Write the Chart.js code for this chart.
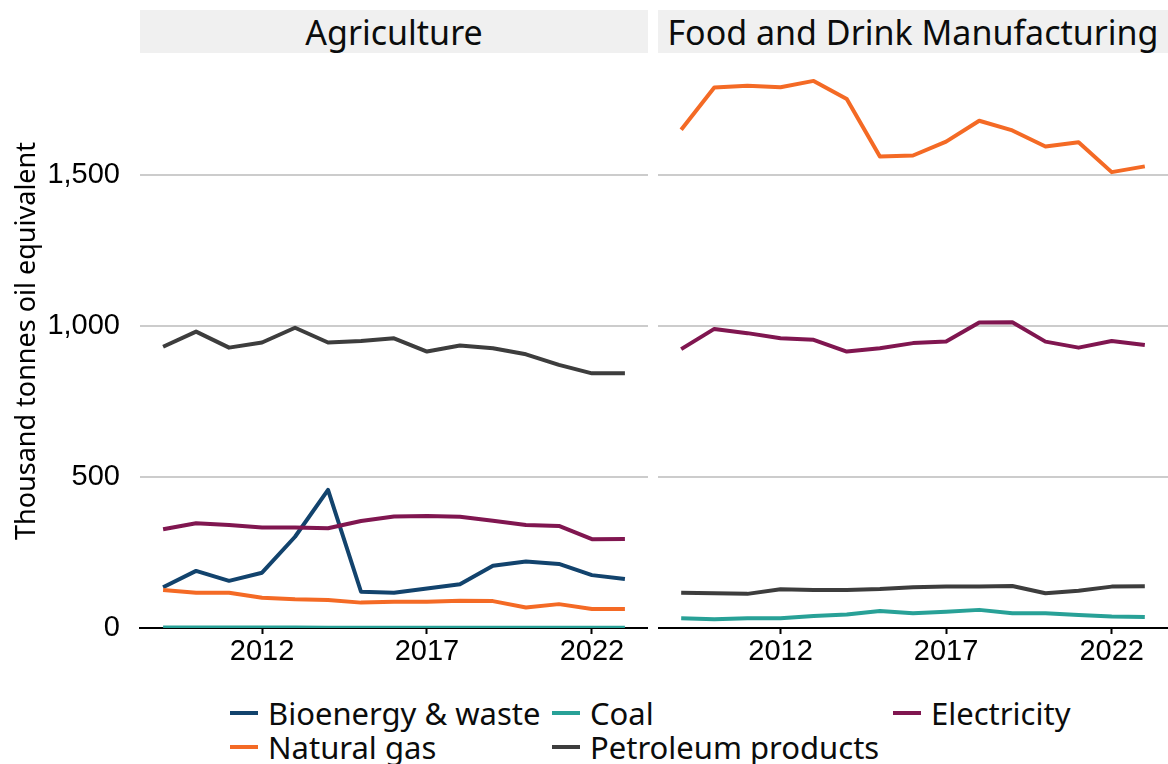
<!DOCTYPE html>
<html><head><meta charset="utf-8">
<script src="https://cdn.jsdelivr.net/npm/chart.js@4/dist/chart.umd.min.js"></script>
<style>
html,body{margin:0;padding:0;background:#fff}
body{width:1168px;height:764px;overflow:hidden;position:relative;font-family:"Noto Sans",sans-serif;color:#0b0c0c}
.strip{position:absolute;top:10px;height:43px;background:#f0f0f0;display:flex;align-items:center;justify-content:center;font-size:34px;white-space:nowrap}
canvas{position:absolute;top:54px}
.leg{position:absolute;display:flex;align-items:center;font-size:31px;white-space:nowrap;height:34px}
.leg i{display:inline-block;width:28px;height:4px;margin-right:10px}
</style>
</head><body>
<div class="strip" style="left:140px;width:508px">Agriculture</div>
<div class="strip" style="left:658px;width:510px">Food and Drink Manufacturing</div>
<canvas id="c1" width="648" height="626" style="left:0"></canvas>
<canvas id="c2" width="510" height="626" style="left:658px"></canvas>
<div id="legend"></div>
<script>
const years = [2009,2010,2011,2012,2013,2014,2015,2016,2017,2018,2019,2020,2021,2022,2023];
const seriesNames = ["Bioenergy & waste","Coal","Electricity","Natural gas","Petroleum products"];
const seriesColors = ["#12436D","#28A197","#801650","#F46A25","#3D3D3D"];
const xTicks = [2012,2017,2022];
const yTicks = [0,500,1000,1500];

// Agriculture
const agriBioenergy = [135,189,156,183,302,457,120,117,131,145,206,220,212,175,162];
const agriCoal      = [2,2,2,2,2,1,1,1,1,1,1,1,1,1,1];
const agriElectric  = [327,347,341,333,333,330,354,369,371,368,355,341,338,294,295];
const agriGas       = [126,117,117,100,95,93,84,87,87,90,89,68,79,63,63];
const agriPetroleum = [931,981,928,945,994,945,950,959,915,935,926,906,871,843,843];

// Food and Drink Manufacturing
const foodBioenergy = [null,null,null,null,null,null,null,null,null,null,null,null,null,null,null];
const foodCoal      = [32,29,32,32,40,45,56,49,54,60,49,49,43,38,36];
const foodElectric  = [923,990,976,959,954,915,926,943,948,1011,1012,948,928,950,937];
const foodGas       = [1649,1789,1795,1790,1811,1751,1561,1564,1610,1679,1647,1594,1608,1509,1528];
const foodPetroleum = [117,115,113,128,126,126,129,135,137,137,139,115,123,137,138];

function makeDatasets(arrs){
  return arrs.map((vals,i)=>({
    label: seriesNames[i],
    data: years.map((y,j)=>({x:y,y:vals[j]})),
    borderColor: seriesColors[i],
    backgroundColor: seriesColors[i],
    borderWidth: 4,
    pointRadius: 0,
    tension: 0,
    borderJoinStyle: 'round',
    spanGaps: false,
    order: arrs.length - i
  }));
}

function makePanel(id, arrs, showY){
  return new Chart(document.getElementById(id), {
    type: 'line',
    data: { datasets: makeDatasets(arrs) },
    options: {
      responsive: false,
      animation: false,
      events: [],
      layout: { padding: 0, autoPadding: false },
      plugins: { legend: {display:false}, tooltip: {enabled:false} },
      scales: {
        x: {
          type: 'linear', min: 2008.3, max: 2023.7,
          afterBuildTicks: s => { s.ticks = xTicks.map(v=>({value:v})); },
          afterFit: s => { s.height = 52; s.paddingLeft = 0; s.paddingRight = 0; },
          grid: { drawOnChartArea:false, drawTicks:true, tickLength:6, tickColor:'#000', tickWidth:2 },
          border: { display:true, color:'#000', width:2 },
          ticks: { font:{family:'Liberation Sans', size:29}, color:'#000', padding:1, maxRotation:0, autoSkip:false, callback: v => String(v) }
        },
        y: {
          min: 0, max: 1900,
          afterBuildTicks: s => { s.ticks = yTicks.map(v=>({value:v})); },
          afterFit: s => { s.width = showY ? 140 : 0; s.paddingTop = 0; s.paddingBottom = 0; },
          grid: { color: c => (c.tick && c.tick.value === 0) ? 'rgba(0,0,0,0)' : '#cccccc', lineWidth: 2, drawTicks:false },
          border: { display:false },
          ticks: { display: showY, padding: 20, font:{family:'Liberation Sans', size:29}, color:'#000',
                   callback: v => v.toLocaleString('en-GB') },
          title: { display: showY, text: 'Thousand tonnes oil equivalent', color:'#000',
                   font:{family:'Noto Sans', size:27}, padding:{top:11,bottom:0} }
        }
      }
    }
  });
}

makePanel('c1', [agriBioenergy, agriCoal, agriElectric, agriGas, agriPetroleum], true);
makePanel('c2', [foodBioenergy, foodCoal, foodElectric, foodGas, foodPetroleum], false);

// legend
const legPos = [[230,696],[552,696],[893,696],[230,730],[552,730]];
const legOrder = [0,1,2,3,4];
const legEl = document.getElementById('legend');
legOrder.forEach((k,i)=>{
  const d = document.createElement('div');
  d.className = 'leg';
  d.style.left = legPos[i][0]+'px';
  d.style.top = legPos[i][1]+'px';
  d.innerHTML = '<i style="background:'+seriesColors[k]+'"></i>';
  d.appendChild(document.createTextNode(seriesNames[k]));
  legEl.appendChild(d);
});
</script>
</body></html>
